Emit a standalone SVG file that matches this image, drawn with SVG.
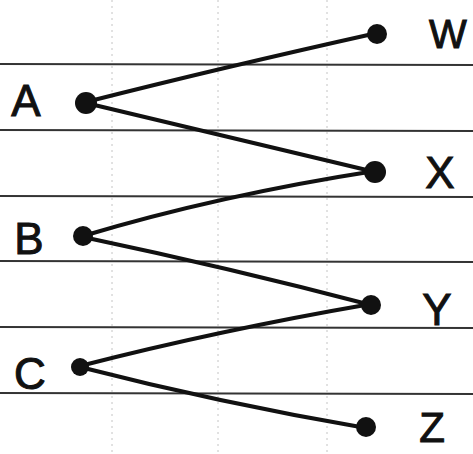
<svg xmlns="http://www.w3.org/2000/svg" width="473" height="454" viewBox="0 0 473 454">
<style>
.rule{stroke:#333;stroke-width:2}
.vrule{stroke:#c4c4c4;stroke-width:1;stroke-dasharray:2 4}
.edge{stroke:#111;stroke-width:4;fill:none;stroke-linecap:round}
.dot{fill:#111}
.lbl{font-family:"Liberation Sans",Arial,sans-serif;font-size:44px;fill:#111;stroke:#111;stroke-width:1;text-anchor:middle}
</style>
<rect width="473" height="454" fill="#fff"/>
<g id="paper">
<line class="vrule" x1="112" y1="0" x2="112" y2="454"/>
<line class="vrule" x1="218" y1="0" x2="218" y2="454"/>
<line class="vrule" x1="327" y1="0" x2="327" y2="454"/>
<line class="rule" x1="0" y1="64" x2="473" y2="65"/>
<line class="rule" x1="0" y1="130" x2="473" y2="131"/>
<line class="rule" x1="0" y1="196" x2="473" y2="197"/>
<line class="rule" x1="0" y1="261" x2="473" y2="262"/>
<line class="rule" x1="0" y1="327" x2="473" y2="328"/>
<line class="rule" x1="0" y1="393" x2="473" y2="394"/>
</g>
<g id="connectors">
<path class="edge" d="M86 102 Q220 68 377 33"/>
<path class="edge" d="M86 103 Q230 138 375 172"/>
<path class="edge" d="M83 236 Q220 195 375 171"/>
<path class="edge" d="M83 237 Q230 268 371 305"/>
<path class="edge" d="M80 366 Q220 330 371 304"/>
<path class="edge" d="M80 367 Q220 403 366 428"/>
</g>
<g id="node-A"><circle class="dot" cx="86" cy="103" r="11"/><text class="lbl" x="26" y="116">A</text></g>
<g id="node-B"><circle class="dot" cx="83" cy="236" r="10"/><text class="lbl" x="29" y="254">B</text></g>
<g id="node-C"><circle class="dot" cx="80" cy="367" r="9"/><text class="lbl" x="30" y="389">C</text></g>
<g id="node-W"><circle class="dot" cx="377" cy="34" r="10"/><text class="lbl" x="448" y="48" style="font-size:40px">W</text></g>
<g id="node-X"><circle class="dot" cx="375" cy="172" r="11"/><text class="lbl" x="440" y="188">X</text></g>
<g id="node-Y"><circle class="dot" cx="371" cy="305" r="10"/><text class="lbl" x="437" y="325">Y</text></g>
<g id="node-Z"><circle class="dot" cx="366" cy="427" r="10"/><text class="lbl" x="432" y="442" style="font-size:42px">Z</text></g>
</svg>
